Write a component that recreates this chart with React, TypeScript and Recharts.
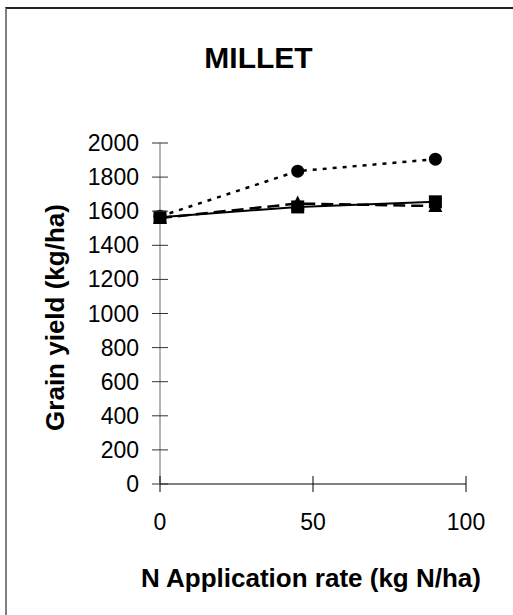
import React from "react";
import { LineChart, Line, XAxis, YAxis, Label } from "recharts";

// N rate (kg N/ha) and grain yield (kg/ha) for the three treatments
const nRates = [0, 45, 90];
const yieldCircle = [1570, 1835, 1905];
const yieldTriangle = [1560, 1645, 1630];
const yieldSquare = [1565, 1625, 1655];

const xTicks = [0, 50, 100];
const yTicks = [0, 200, 400, 600, 800, 1000, 1200, 1400, 1600, 1800, 2000];

const data = nRates.map((n, i) => ({
  n,
  circle: yieldCircle[i],
  triangle: yieldTriangle[i],
  square: yieldSquare[i],
}));

const FONT = "'Liberation Sans', Arial, sans-serif";

const YTick = (props: any) => {
  const { x, y, payload } = props;
  return (
    <g>
      <line x1={x - 8} x2={x + 8} y1={y} y2={y} stroke="#333" strokeWidth={1} />
      <text
        x={x - 21}
        y={y}
        textAnchor="end"
        dominantBaseline="central"
        fontFamily={FONT}
        fontSize={23}
        fill="#000"
      >
        {payload.value}
      </text>
    </g>
  );
};

const XTick = (props: any) => {
  const { x, y, payload } = props;
  return (
    <g>
      <line x1={x} x2={x} y1={y - 8} y2={y + 8} stroke="#000" strokeWidth={1} />
      <text
        x={x}
        y={y + 38}
        textAnchor="middle"
        dominantBaseline="central"
        fontFamily={FONT}
        fontSize={23}
        fill="#000"
      >
        {payload.value}
      </text>
    </g>
  );
};

const CircleDot = (props: any) => {
  const { cx, cy } = props;
  if (cx == null || cy == null) return null;
  return <circle cx={cx} cy={cy} r={6.5} fill="#000" />;
};

const SquareDot = (props: any) => {
  const { cx, cy } = props;
  if (cx == null || cy == null) return null;
  return <rect x={cx - 6.5} y={cy - 6.5} width={13} height={13} fill="#000" />;
};

const TriangleDot = (props: any) => {
  const { cx, cy } = props;
  if (cx == null || cy == null) return null;
  return (
    <polygon
      points={`${cx},${cy - 8} ${cx + 7},${cy + 6} ${cx - 7},${cy + 6}`}
      fill="#000"
    />
  );
};

export default function App() {
  return (
    <div
      style={{
        position: "absolute",
        left: 0,
        top: 0,
        width: 513,
        height: 615,
        overflow: "hidden",
        background: "#fff",
      }}
    >
      {/* frame of the chart area, running off the right and bottom */}
      <div
        style={{
          position: "absolute",
          left: 5,
          top: 7,
          width: 700,
          height: 800,
          borderTop: "2px solid #222",
          borderLeft: "2px solid #808080",
        }}
      />
      <div
        style={{
          position: "absolute",
          left: 0,
          top: 43,
          width: 517,
          textAlign: "center",
          fontFamily: FONT,
          fontWeight: "bold",
          fontSize: 30,
          lineHeight: "30px",
        }}
      >
        MILLET
      </div>
      <div style={{ position: "absolute", left: 0, top: 0 }}>
        <LineChart
          width={513}
          height={615}
          data={data}
          margin={{ top: 143, right: 47, bottom: 71, left: 0 }}
        >
          <XAxis
            dataKey="n"
            type="number"
            domain={[0, 100]}
            ticks={xTicks}
            tick={<XTick />}
            tickLine={false}
            tickSize={0}
            tickMargin={0}
            height={60}
            stroke="#000"
            interval={0}
          >
            <Label
              content={(p: any) => {
                const vb = p.viewBox;
                return (
                  <text
                    x={vb.x + vb.width / 2 - 2}
                    y={587}
                    textAnchor="middle"
                    fontFamily={FONT}
                    fontWeight="bold"
                    fontSize={26}
                    fill="#000"
                  >
                    N Application rate (kg N/ha)
                  </text>
                );
              }}
            />
          </XAxis>
          <YAxis
            type="number"
            domain={[0, 2000]}
            ticks={yTicks}
            tick={<YTick />}
            tickLine={false}
            tickSize={0}
            tickMargin={0}
            width={160}
            stroke="#666"
            interval={0}
          >
            <Label
              content={(p: any) => {
                const vb = p.viewBox;
                const cy = vb.y + vb.height / 2 + 4;
                return (
                  <text
                    x={64}
                    y={cy}
                    transform={`rotate(-90 64 ${cy})`}
                    textAnchor="middle"
                    fontFamily={FONT}
                    fontWeight="bold"
                    fontSize={26}
                    fill="#000"
                  >
                    Grain yield (kg/ha)
                  </text>
                );
              }}
            />
          </YAxis>
          <Line
            dataKey="circle"
            stroke="#000"
            strokeWidth={2.5}
            strokeDasharray="4 6"
            dot={<CircleDot />}
            activeDot={false}
            isAnimationActive={false}
          />
          <Line
            dataKey="triangle"
            stroke="#000"
            strokeWidth={2.5}
            strokeDasharray="12 6"
            dot={<TriangleDot />}
            activeDot={false}
            isAnimationActive={false}
          />
          <Line
            dataKey="square"
            stroke="#000"
            strokeWidth={2}
            dot={<SquareDot />}
            activeDot={false}
            isAnimationActive={false}
          />
        </LineChart>
      </div>
    </div>
  );
}
